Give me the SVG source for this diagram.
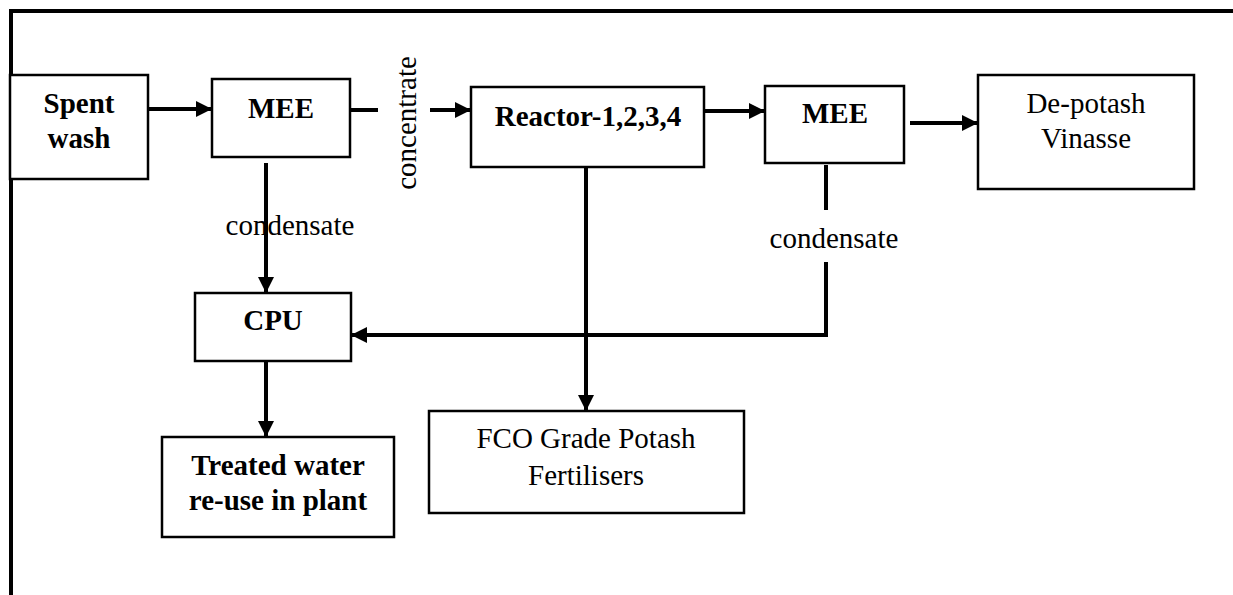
<svg xmlns="http://www.w3.org/2000/svg" width="1233" height="595" viewBox="0 0 1233 595">
  <defs>
    <style>
      .box { fill: #ffffff; stroke: #000000; stroke-width: 2.5; }
      .conn { fill: none; stroke: #000000; stroke-width: 4; }
      .t { font-family: "Liberation Serif", "Times New Roman", serif; font-size: 29px; fill: #000000; text-anchor: middle; }
      .b { font-weight: bold; }
    </style>
    <marker id="arr" markerUnits="userSpaceOnUse" markerWidth="17" markerHeight="17" refX="16" refY="8" orient="auto" viewBox="0 0 17 17">
      <path d="M0,0 L16,8 L0,16 z" fill="#000000"/>
    </marker>
  </defs>
  <rect width="1233" height="595" fill="#ffffff"/>
  <path d="M11,595 L11,11 L1233,11" fill="none" stroke="#000000" stroke-width="4"/>

  <g id="connectors">
    <path class="conn" d="M148,109 L212,109" marker-end="url(#arr)"/>
    <path class="conn" d="M350,110 L378,110"/>
    <path class="conn" d="M430,110 L471,110" marker-end="url(#arr)"/>
    <path class="conn" d="M704,111 L765,111" marker-end="url(#arr)"/>
    <path class="conn" d="M910,123 L978,123" marker-end="url(#arr)"/>
    <path class="conn" d="M266,163 L266,293" marker-end="url(#arr)"/>
    <path class="conn" d="M266,361 L266,437" marker-end="url(#arr)"/>
    <path class="conn" d="M826,165 L826,210"/>
    <path class="conn" d="M826,262 L826,335 L351,335" marker-end="url(#arr)"/>
    <path class="conn" d="M586,165 L586,411" marker-end="url(#arr)"/>
    <text class="t" transform="translate(416,123) rotate(-90)">concentrate</text>
    <text class="t" x="290" y="235">condensate</text>
    <text class="t" x="834" y="248">condensate</text>
  </g>

  <g id="spent-wash">
    <rect class="box" x="10" y="75" width="138" height="104"/>
    <text class="t b" x="79" y="113">Spent</text>
    <text class="t b" x="79" y="148">wash</text>
  </g>
  <g id="mee1">
    <rect class="box" x="212" y="79" width="138" height="78"/>
    <text class="t b" x="281" y="118">MEE</text>
  </g>
  <g id="reactor">
    <rect class="box" x="471" y="87" width="233" height="80"/>
    <text class="t b" x="588" y="126">Reactor-1,2,3,4</text>
  </g>
  <g id="mee2">
    <rect class="box" x="765" y="86" width="139" height="77"/>
    <text class="t b" x="835" y="123">MEE</text>
  </g>
  <g id="de-potash">
    <rect class="box" x="978" y="75" width="216" height="114"/>
    <text class="t" x="1086" y="113">De-potash</text>
    <text class="t" x="1086" y="148">Vinasse</text>
  </g>
  <g id="cpu">
    <rect class="box" x="195" y="293" width="156" height="68"/>
    <text class="t b" x="273" y="330">CPU</text>
  </g>
  <g id="treated-water">
    <rect class="box" x="162" y="437" width="232" height="100"/>
    <text class="t b" x="278" y="475">Treated water</text>
    <text class="t b" x="278" y="510">re-use in plant</text>
  </g>
  <g id="fco">
    <rect class="box" x="429" y="411" width="315" height="102"/>
    <text class="t" x="586" y="448">FCO Grade Potash</text>
    <text class="t" x="586" y="485">Fertilisers</text>
  </g>
</svg>
